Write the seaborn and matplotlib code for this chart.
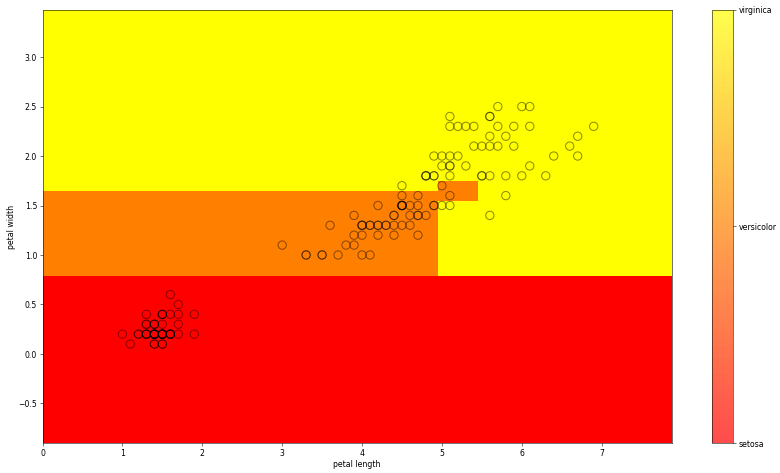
import numpy as np
import matplotlib
matplotlib.use("Agg")
import matplotlib.pyplot as plt
import seaborn as sns
import pandas as pd
from matplotlib.colors import Normalize
from matplotlib.cm import ScalarMappable

class_names = ["setosa", "versicolor", "virginica"]

petal_length = [
    1.4, 1.4, 1.3, 1.5, 1.4, 1.7, 1.4, 1.5, 1.4, 1.5, 1.5, 1.6, 1.4, 1.1, 1.2, 1.5, 1.3, 1.4, 1.7, 1.5,
    1.7, 1.5, 1.0, 1.7, 1.9, 1.6, 1.6, 1.5, 1.4, 1.6, 1.6, 1.5, 1.5, 1.4, 1.5, 1.2, 1.3, 1.4, 1.3, 1.5,
    1.3, 1.3, 1.3, 1.6, 1.9, 1.4, 1.6, 1.4, 1.5, 1.4,
    4.7, 4.5, 4.9, 4.0, 4.6, 4.5, 4.7, 3.3, 4.6, 3.9, 3.5, 4.2, 4.0, 4.7, 3.6, 4.4, 4.5, 4.1, 4.5, 3.9,
    4.8, 4.0, 4.9, 4.7, 4.3, 4.4, 4.8, 5.0, 4.5, 3.5, 3.8, 3.7, 3.9, 5.1, 4.5, 4.5, 4.7, 4.4, 4.1, 4.0,
    4.4, 4.6, 4.0, 3.3, 4.2, 4.2, 4.2, 4.3, 3.0, 4.1,
    6.0, 5.1, 5.9, 5.6, 5.8, 6.6, 4.5, 6.3, 5.8, 6.1, 5.1, 5.3, 5.5, 5.0, 5.1, 5.3, 5.5, 6.7, 6.9, 5.0,
    5.7, 4.9, 6.7, 4.9, 5.7, 6.0, 4.8, 4.9, 5.6, 5.8, 6.1, 6.4, 5.6, 5.1, 5.6, 6.1, 5.6, 5.5, 4.8, 5.4,
    5.6, 5.1, 5.1, 5.9, 5.7, 5.2, 5.0, 5.2, 5.4, 5.1,
]
petal_width = [
    0.2, 0.2, 0.2, 0.2, 0.2, 0.4, 0.3, 0.2, 0.2, 0.1, 0.2, 0.2, 0.1, 0.1, 0.2, 0.4, 0.4, 0.3, 0.3, 0.3,
    0.2, 0.4, 0.2, 0.5, 0.2, 0.2, 0.4, 0.2, 0.2, 0.2, 0.2, 0.4, 0.1, 0.2, 0.2, 0.2, 0.2, 0.1, 0.2, 0.2,
    0.3, 0.3, 0.2, 0.6, 0.4, 0.3, 0.2, 0.2, 0.2, 0.2,
    1.4, 1.5, 1.5, 1.3, 1.5, 1.3, 1.6, 1.0, 1.3, 1.4, 1.0, 1.5, 1.0, 1.4, 1.3, 1.4, 1.5, 1.0, 1.5, 1.1,
    1.8, 1.3, 1.5, 1.2, 1.3, 1.4, 1.4, 1.7, 1.5, 1.0, 1.1, 1.0, 1.2, 1.6, 1.5, 1.6, 1.5, 1.3, 1.3, 1.3,
    1.2, 1.4, 1.2, 1.0, 1.3, 1.2, 1.3, 1.3, 1.1, 1.3,
    2.5, 1.9, 2.1, 1.8, 2.2, 2.1, 1.7, 1.8, 1.8, 2.5, 2.0, 1.9, 2.1, 2.0, 2.4, 2.3, 1.8, 2.2, 2.3, 1.5,
    2.3, 2.0, 2.0, 1.8, 2.1, 1.8, 1.8, 1.8, 2.1, 1.6, 1.9, 2.0, 2.2, 1.5, 1.4, 2.3, 2.4, 1.8, 1.8, 2.1,
    2.4, 2.3, 1.9, 2.3, 2.5, 2.3, 1.9, 2.0, 2.3, 1.8,
]
species = ["setosa"] * 50 + ["versicolor"] * 50 + ["virginica"] * 50

# decision-tree split thresholds read from the region boundaries
width_split_root = 0.8
width_split_upper = 1.75
length_split_a = 4.95
width_split_a = 1.65
width_split_b = 1.55
length_split_b = 5.45
grid_step = 0.02


def predict(L, W):
    out = np.full(L.shape, 2.0)
    out[W <= width_split_root] = 0
    mid = (W > width_split_root) & (W <= width_split_upper)
    out[mid & (L <= length_split_a) & (W <= width_split_a)] = 1
    out[mid & (L > length_split_a) & (W > width_split_b) & (L <= length_split_b)] = 1
    return out


df = pd.DataFrame({"petal length": petal_length, "petal width": petal_width, "species": species})

L = np.array(petal_length)
W = np.array(petal_width)
xs = np.arange(L.min() - 1, L.max() + 1, grid_step)
ys = np.arange(W.min() - 1, W.max() + 1, grid_step)
xx, yy = np.meshgrid(xs, ys)
Z = predict(xx, yy)

plt.rcParams["font.size"] = 11.5
plt.rcParams["xtick.major.size"] = 4.5
plt.rcParams["ytick.major.size"] = 4.5

DPI = 48.75
fig = plt.figure(figsize=(16, 9.71), dpi=DPI)
ax = fig.add_axes([0.0545, 0.0634, 0.807, 0.9156])
cax = fig.add_axes([0.9128, 0.0634, 0.0269, 0.9156])

norm = Normalize(0, 2)
ax.pcolormesh(xx, yy, Z, cmap="autumn", norm=norm, shading="nearest")

sns.scatterplot(data=df, x="petal length", y="petal width", s=150, ax=ax,
                legend=False, color="k")
coll = ax.collections[-1]
coll.set_facecolor("none")
coll.set_edgecolor((0, 0, 0, 0.45))
coll.set_linewidth(1.5)

ax.set_xlim(xs.min(), xs.max())
ax.set_ylim(ys.min(), ys.max())
ax.set_xlabel("petal length", labelpad=4)
ax.set_ylabel("petal width", labelpad=4)

cb = fig.colorbar(ScalarMappable(norm=norm, cmap="autumn"), cax=cax, alpha=0.7, ticks=[0, 1, 2])
cb.set_ticklabels(class_names)

fig.savefig("out.png", dpi=DPI)
